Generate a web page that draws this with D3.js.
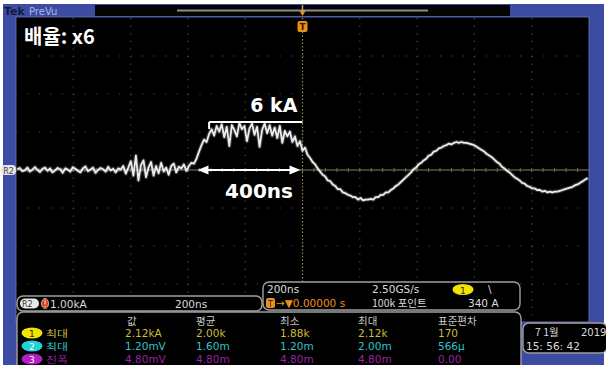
<!DOCTYPE html>
<html>
<head>
<meta charset="utf-8">
<script src="https://cdn.jsdelivr.net/npm/d3@7/dist/d3.min.js"></script>
<style>
  html, body { margin: 0; padding: 0; background: #ffffff; }
  svg { display: block; }
  text { font-family: "DejaVu Sans", "Noto Sans CJK KR", sans-serif; }
  .kr { font-family: "Noto Sans CJK KR", "DejaVu Sans", sans-serif; }
</style>
</head>
<body>
<svg id="scope" width="606" height="367"></svg>
<script>
// ---- Acquisition: R2 trace, sampled every 10 ns starting at -1130 ns ----
const sampleStartNs = -1130;
const sampleStepNs = 10;
const currentKA = [
  0.1,0.25,-0.15,-0.05,0.3,-0.2,0.05,0.35,0.0,-0.25,
  0.15,0.3,-0.1,0.2,-0.3,-0.05,0.25,0.1,-0.35,0.2,
  0.05,-0.2,0.35,0.15,-0.1,-0.3,0.2,0.45,-0.15,0.05,
  0.3,-0.35,0.0,0.25,0.1,-0.2,0.4,-0.05,0.15,-0.3,
  0.2,0.05,0.5,-0.45,0.3,1.1,-0.7,1.8,-1.3,0.6,
  1.2,-0.9,0.3,1.0,-0.7,0.5,-0.4,0.9,-0.2,0.3,
  -0.6,0.5,0.8,-0.3,0.4,0.2,0.7,-0.1,0.5,0.9,
  0.8,1.4,2.3,3.1,3.8,3.5,4.5,5.1,4.3,5.5,
  4.8,5.7,4.1,5.4,3.0,5.6,5.0,4.2,5.9,5.1,
  5.5,3.6,5.2,5.8,4.4,5.4,2.9,5.0,5.8,4.6,
  5.6,4.3,5.3,4.0,5.5,3.4,4.9,4.2,4.8,3.5,
  4.2,3.0,3.6,2.4,2.8,1.9,1.5,1.0,0.7,0.2,
  -0.2,-0.6,-0.8,-1.3,-1.4,-1.8,-2.0,-2.4,-2.4,-2.8,
  -2.9,-3.1,-3.2,-3.4,-3.4,-3.7,-3.5,-3.8,-3.7,-3.7,
  -3.6,-3.7,-3.4,-3.4,-3.1,-3.1,-2.8,-2.8,-2.5,-2.3,
  -2.0,-1.8,-1.5,-1.2,-0.9,-0.6,-0.3,0.1,0.3,0.7,
  0.9,1.2,1.4,1.8,1.9,2.3,2.4,2.7,2.8,3.0,
  3.1,3.3,3.2,3.4,3.5,3.4,3.5,3.4,3.4,3.3,
  3.2,3.1,2.9,2.7,2.5,2.3,2.0,1.8,1.6,1.3,
  1.0,0.8,0.4,0.2,-0.1,-0.3,-0.6,-0.9,-1.1,-1.3,
  -1.6,-1.7,-2.0,-2.1,-2.3,-2.3,-2.5,-2.5,-2.7,-2.6,
  -2.8,-2.7,-2.8,-2.7,-2.7,-2.6,-2.5,-2.4,-2.3,-2.2,
  -2.1,-1.9,-1.8,-1.6,-1.4,-1.2,-1.0
];

// Annotations
const peakLevelKA = 6;
const peakSpanNs = [-370, 0];
const pulseWidthNs = [-400, 0];
const titleText = "배율: x6";
const peakLabel = "6 kA";
const widthLabel = "400ns";

// Readouts
const r2Readout = ["R2", "1.00kA", "200ns"];
const horizRow1 = ["200ns", "2.50GS/s", "1", "\\"];
const horizRow2 = ["→▼0.00000 s", "100k 포인트", "340 A"];
const measHeaders = ["값", "평균", "최소", "최대", "표준편차"];
const measChannels = ["1", "2", "3"];
const measNames = ["최대", "최대", "진폭"];
const measValues = [
  ["2.12kA", "2.00k", "1.88k", "2.12k", "170"],
  ["1.20mV", "1.60m", "1.20m", "2.00m", "566μ"],
  ["4.80mV", "4.80m", "4.80m", "4.80m", "0.00"]
];
const measColors = ["#cdbd34", "#2fc6c6", "#9c22a0"];
const pillColors = ["#f3e400", "#22d2d8", "#b21fc2"];
const dateLines = ["7 1월", "2019", "15: 56: 42"];

// ---- Layout ----
const svg = d3.select("#scope");
const plot = { left: 16, right: 589, top: 18, bottom: 322 };
const x = d3.scaleLinear().domain([-1135, 1135]).range([plot.left, plot.right]);
const y = d3.scaleLinear().domain([-19, 19]).range([plot.bottom, plot.top]);
const xDiv = d3.scaleLinear().domain([0, 10]).range([plot.left, plot.right]);
const yDiv = d3.scaleLinear().domain([-4, 4]).range([plot.bottom, plot.top]);

const frameBlue = "#3c4ca3";
const orange = "#e8921c";

// bezel
svg.append("rect").attr("x", 0).attr("y", 0).attr("width", 606).attr("height", 367).attr("fill", "#ffffff");
svg.append("rect").attr("x", 3).attr("y", 4).attr("width", 601).attr("height", 361).attr("fill", frameBlue);

// top status strip
svg.append("rect").attr("x", 95).attr("y", 5).attr("width", 415).attr("height", 11).attr("fill", "#040404");
svg.append("line").attr("x1", 177).attr("x2", 428).attr("y1", 10.5).attr("y2", 10.5)
  .attr("stroke", "#8e8e8e").attr("stroke-width", 2);
svg.append("text").attr("x", 4).attr("y", 15).attr("font-size", 11).attr("font-weight", "bold")
  .attr("fill", "#15183a").text("Tek");
svg.append("text").attr("x", 29).attr("y", 14.5).attr("font-size", 10)
  .attr("fill", "#a9b6e6").text("PreVu");

// graticule area
svg.append("rect").attr("x", plot.left).attr("y", 17).attr("width", plot.right - plot.left)
  .attr("height", plot.bottom - 17).attr("fill", "#000000")
  .attr("stroke", "#6b78b8").attr("stroke-width", 0.8);

const grid = svg.append("g");
d3.range(1, 10).filter(k => k !== 5).forEach(k => {
  grid.append("line").attr("x1", xDiv(k)).attr("x2", xDiv(k)).attr("y1", plot.top).attr("y2", plot.bottom)
    .attr("stroke", "#4c4c4c").attr("stroke-width", 1.2).attr("stroke-dasharray", "1.2,6.4");
});
d3.range(-3, 4).filter(k => k !== 0).forEach(k => {
  grid.append("line").attr("x1", plot.left).attr("x2", plot.right).attr("y1", yDiv(k)).attr("y2", yDiv(k))
    .attr("stroke", "#4c4c4c").attr("stroke-width", 1.2).attr("stroke-dasharray", "1.2,10.26");
});
// centre crosshair
grid.append("line").attr("x1", xDiv(5)).attr("x2", xDiv(5)).attr("y1", plot.top).attr("y2", plot.bottom)
  .attr("stroke", "#9b8552").attr("stroke-width", 1.2).attr("stroke-dasharray", "1.5,2");
grid.append("line").attr("x1", plot.left).attr("x2", plot.right).attr("y1", yDiv(0)).attr("y2", yDiv(0))
  .attr("stroke", "#8d7f52").attr("stroke-width", 1);
d3.range(0, 50).forEach(i => {
  const xx = xDiv(i / 5);
  grid.append("line").attr("x1", xx).attr("x2", xx).attr("y1", yDiv(0) - 2).attr("y2", yDiv(0) + 2)
    .attr("stroke", "#6d6a55").attr("stroke-width", 1);
});

// trace: soft halo plus the bright core
const samples = currentKA.map((v, i) => ({ t: sampleStartNs + i * sampleStepNs, v }));
const line = d3.line().x(d => x(d.t)).y(d => y(d.v));
svg.append("path").datum(samples).attr("d", line).attr("fill", "none")
  .attr("stroke", "#ffffff").attr("stroke-opacity", 0.22).attr("stroke-width", 4)
  .attr("stroke-linejoin", "round");
svg.append("path").datum(samples).attr("d", line).attr("fill", "none")
  .attr("stroke", "#ececec").attr("stroke-width", 1.8).attr("stroke-linejoin", "round");

// trigger position marker
svg.append("path").attr("d", `M${x(0)},5 L${x(0)},13`).attr("stroke", "#b8a070").attr("stroke-width", 1.5);
svg.append("path").attr("d", `M${x(0) - 3},11 L${x(0) + 3},11 L${x(0)},16 Z`).attr("fill", orange);
svg.append("rect").attr("x", x(0) - 5).attr("y", 21).attr("width", 10).attr("height", 11).attr("rx", 2)
  .attr("fill", orange);
svg.append("text").attr("x", x(0)).attr("y", 30).attr("text-anchor", "middle").attr("font-size", 9)
  .attr("font-weight", "bold").attr("fill", "#3a2000").text("T");

// R2 ground marker on the left bezel
svg.append("rect").attr("x", 1).attr("y", yDiv(0) - 5).attr("width", 15).attr("height", 10).attr("rx", 4)
  .attr("fill", "#e6e6e6");
svg.append("text").attr("x", 8.5).attr("y", yDiv(0) + 3.5).attr("text-anchor", "middle").attr("font-size", 8)
  .attr("fill", "#444").text("R2");

// annotations
const ann = svg.append("g").attr("fill", "#ffffff");
ann.append("text").attr("class", "kr").attr("x", 24).attr("y", 44).attr("font-size", 20)
  .attr("font-weight", "bold").text(titleText);

ann.append("line").attr("x1", x(peakSpanNs[0])).attr("x2", x(peakSpanNs[1]))
  .attr("y1", y(peakLevelKA)).attr("y2", y(peakLevelKA)).attr("stroke", "#ffffff").attr("stroke-width", 2);
ann.append("line").attr("x1", x(peakSpanNs[0])).attr("x2", x(peakSpanNs[0]))
  .attr("y1", y(peakLevelKA)).attr("y2", y(peakLevelKA) + 7).attr("stroke", "#ffffff").attr("stroke-width", 2);
ann.append("text").attr("x", (x(peakSpanNs[0]) + x(peakSpanNs[1])) / 2 + 18).attr("y", y(peakLevelKA) - 10)
  .attr("text-anchor", "middle").attr("font-size", 19).attr("font-weight", "bold")
  .attr("font-family", "'Open Sans', 'DejaVu Sans', sans-serif").text(peakLabel);

const ax0 = x(pulseWidthNs[0]), ax1 = x(pulseWidthNs[1]), ay = y(0);
ann.append("line").attr("x1", ax0 + 6).attr("x2", ax1 - 6).attr("y1", ay).attr("y2", ay)
  .attr("stroke", "#ffffff").attr("stroke-width", 2.2);
ann.append("path").attr("d", `M${ax0 - 4},${ay} L${ax0 + 7},${ay - 4.5} L${ax0 + 7},${ay + 4.5} Z`);
ann.append("path").attr("d", `M${ax1 - 2},${ay} L${ax1 - 13},${ay - 4.5} L${ax1 - 13},${ay + 4.5} Z`);
ann.append("text").attr("x", (ax0 + ax1) / 2 + 7).attr("y", 198).attr("text-anchor", "middle")
  .attr("font-size", 20).attr("font-weight", "bold")
  .attr("font-family", "'Open Sans', 'DejaVu Sans', sans-serif").text(widthLabel);

// ---- readout panels ----
const panel = (px, py, w, h) => svg.append("rect").attr("x", px).attr("y", py).attr("width", w)
  .attr("height", h).attr("rx", 6).attr("fill", "#000").attr("stroke", "#a0a0a0").attr("stroke-width", 1.4);
const label = (g, tx, ty, s, fill, cls, size) => g.append("text").attr("x", tx).attr("y", ty)
  .attr("font-size", size || 10.5).attr("fill", fill).attr("class", cls || null).text(s);

// table first, so the horizontal box sits over its top edge
panel(17, 312, 504, 58);
panel(17, 296, 245, 15);
panel(263, 282, 257, 28);
panel(523, 323, 84, 30);

const ro = svg.append("g");
// R2 reference readout
ro.append("rect").attr("x", 20).attr("y", 298.5).attr("width", 19).attr("height", 10).attr("rx", 5).attr("fill", "#e8e8e8");
label(ro, 22, 307, r2Readout[0], "#333", null, 8);
ro.append("ellipse").attr("cx", 45).attr("cy", 303.5).attr("rx", 3.5).attr("ry", 5).attr("fill", "#d2431f")
  .attr("stroke", "#f0d0c0").attr("stroke-width", 0.8);
label(ro, 43.6, 307, "!", "#ffffff", null, 8);
label(ro, 50, 308, r2Readout[1], "#dcdcdc");
label(ro, 175, 308, r2Readout[2], "#dcdcdc");

// horizontal / trigger readout
label(ro, 267, 293, horizRow1[0], "#dcdcdc");
label(ro, 372, 293, horizRow1[1], "#dcdcdc");
ro.append("ellipse").attr("cx", 463).attr("cy", 289.5).attr("rx", 10.5).attr("ry", 5.5).attr("fill", pillColors[0]);
label(ro, 460, 293.5, horizRow1[2], "#222", null, 9);
label(ro, 488, 293, horizRow1[3], "#dcdcdc");
ro.append("rect").attr("x", 266).attr("y", 298).attr("width", 9).attr("height", 10).attr("rx", 2).attr("fill", orange);
label(ro, 268, 306.5, "T", "#3a2000", null, 8);
label(ro, 276, 307, horizRow2[0], orange);
label(ro, 372, 307, horizRow2[1], "#dcdcdc", "kr");
label(ro, 468, 307, horizRow2[2], "#dcdcdc");

// measurement table
const colX = [125, 196, 280, 358, 438];
measHeaders.forEach((h, i) => label(ro, colX[i] + (i === 0 ? 2 : 0), 325, h, "#c8c8c8", "kr", 10.5));
measValues.forEach((row, r) => {
  const by = 337 + r * 13;
  ro.append("ellipse").attr("cx", 32).attr("cy", by - 4).attr("rx", 10.5).attr("ry", 5.5).attr("fill", pillColors[r]);
  label(ro, 29, by - 0.5, measChannels[r], r === 0 ? "#222" : "#ffffff", null, 9);
  label(ro, 46, by, measNames[r], measColors[r], "kr", 8.6)
    .attr("textLength", 22).attr("lengthAdjust", "spacingAndGlyphs");
  row.forEach((v, c) => label(ro, colX[c], by, v, measColors[r]));
});

// date / time box
label(ro, 535, 336, dateLines[0], "#dcdcdc", "kr");
label(ro, 581, 336, dateLines[1], "#dcdcdc", null, 10);
label(ro, 526, 350, dateLines[2], "#dcdcdc");

// bottom white margin
svg.append("rect").attr("x", 0).attr("y", 365).attr("width", 606).attr("height", 2).attr("fill", "#ffffff");
</script>
</body>
</html>
